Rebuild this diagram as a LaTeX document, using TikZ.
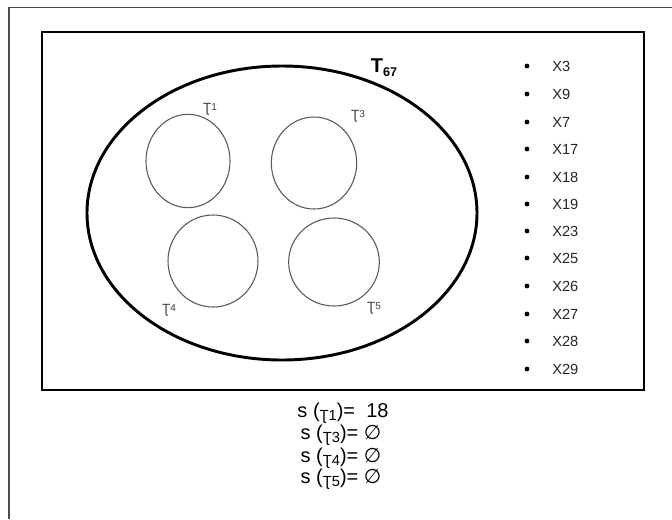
\documentclass[tikz,border=0pt]{standalone}
\usepackage{fontspec}
\setmainfont{Liberation Sans}
\newfontfamily\symfont{DejaVu Sans}
\usetikzlibrary{shapes.geometric}
\begin{document}
\begin{tikzpicture}[x=0.75pt,y=-0.75pt,
  frame/.style={draw=black!70,line width=1.1pt},
  box/.style={draw=black,line width=2.2pt},
  big/.style={draw=black,line width=2.2pt,ellipse,inner sep=0pt},
  small/.style={draw=black!65,line width=0.8pt,ellipse,inner sep=0pt},
  tlab/.style={text=black!75,font=\fontsize{10}{12}\selectfont,inner sep=0pt},
  item/.style={font=\fontsize{11}{13}\selectfont,anchor=west,inner sep=0pt,text=black!85},
  dot/.style={circle,fill=black,inner sep=0pt,minimum size=3.6pt},
  eq/.style={font=\fontsize{15}{17}\selectfont,inner sep=0pt}]
\useasboundingbox (0,0) rectangle (672,519);
\fill[white] (0,0) rectangle (672,519);
\draw[frame] (9,519) -- (9,7.5) -- (672,7.5);
\draw[box] (42,32) rectangle (644,390);
\node[big,minimum width=292.5pt,minimum height=220.5pt] (T67) at (282,213) {};
\node[small,minimum width=63pt,minimum height=70pt] (c1) at (188,161) {};
\node[small,minimum width=64pt,minimum height=69pt] (c3) at (314,163) {};
\node[small,minimum width=67.5pt,minimum height=69pt] (c4) at (213,261) {};
\node[small,minimum width=68pt,minimum height=66pt] (c5) at (334,262) {};
\node[tlab] (l1) at (210,109) {Ʈ\raisebox{0.25ex}{\fontsize{7.5}{8}\selectfont 1}};
\node[tlab] (l3) at (358,116) {Ʈ\raisebox{0.25ex}{\fontsize{7.5}{8}\selectfont 3}};
\node[tlab] (l4) at (169,310) {Ʈ\raisebox{0.25ex}{\fontsize{7.5}{8}\selectfont 4}};
\node[tlab] (l5) at (374,308) {Ʈ\raisebox{0.25ex}{\fontsize{7.5}{8}\selectfont 5}};
\node[inner sep=0pt] (t67) at (384,68) {\fontsize{15}{17}\selectfont\bfseries T\raisebox{-0.35ex}{\fontsize{9.5}{10}\selectfont 67}};
\foreach \lab/\yy [count=\i] in {X3/66,X9/94,X7/122,X17/149,X18/177,X19/204,X23/231,X25/258,X26/286,X27/314,X28/341,X29/369}{
  \node[dot] (d\i) at (527,\yy) {};
  \node[item] (x\i) at (552,\yy) {\lab};
}
\node[eq] (e1) at (343,413) {s (\raisebox{-0.3ex}{\fontsize{11}{12}\selectfont Ʈ1})= \ 18};
\node[eq] (e3) at (341,435) {s (\raisebox{-0.3ex}{\fontsize{11}{12}\selectfont Ʈ3})= {\symfont ∅}};
\node[eq] (e4) at (341,458) {s (\raisebox{-0.3ex}{\fontsize{11}{12}\selectfont Ʈ4})= {\symfont ∅}};
\node[eq] (e5) at (341,479) {s (\raisebox{-0.3ex}{\fontsize{11}{12}\selectfont Ʈ5})= {\symfont ∅}};
\end{tikzpicture}
\end{document}
